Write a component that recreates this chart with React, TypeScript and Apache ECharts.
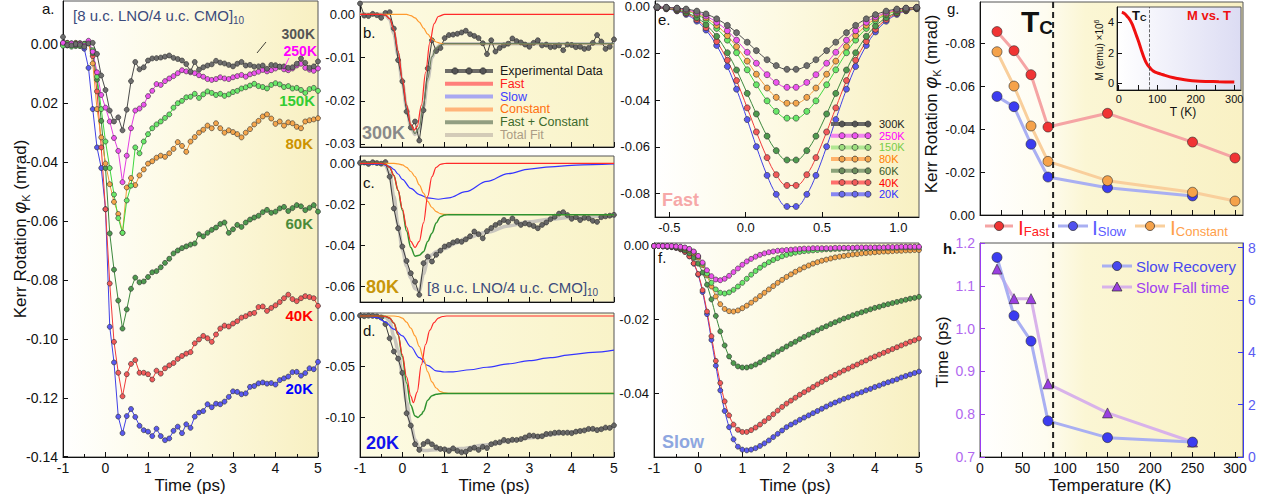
import React, { useEffect, useRef } from 'react';
import * as echarts from 'echarts';

const FONT = "'Liberation Sans', Arial, Helvetica, sans-serif";

// ---------------- time grid (ps) ----------------
const tA = [-1.0,-0.9,-0.8,-0.7,-0.6,-0.5,-0.4,-0.3,-0.2,-0.1,0.0,0.1,0.2,0.3,0.4,0.5,0.6,0.7,0.8,0.9,1.0,1.1,1.2,1.3,1.4,1.5,1.6,1.7,1.8,1.9,2.0,2.1,2.2,2.3,2.4,2.5,2.6,2.7,2.8,2.9,3.0,3.1,3.2,3.3,3.4,3.5,3.6,3.7,3.8,3.9,4.0,4.1,4.2,4.3,4.4,4.5,4.6,4.7,4.8,4.9,5.0];

// ---------------- panel a: experimental Kerr traces ----------------
const k300 = [0.0025,-0.0003,-0.0004,0.0001,-0.0002,-0.0008,0.0003,0.0005,-0.0033,-0.0106,
-0.0155,-0.0225,-0.0262,-0.0248,-0.0292,-0.0222,-0.0125,-0.0060,-0.0085,-0.0078,
-0.0055,-0.0048,-0.0047,-0.0045,-0.0042,-0.0038,-0.0046,-0.0050,-0.0055,-0.0067,
-0.0092,-0.0060,-0.0086,-0.0078,-0.0072,-0.0068,-0.0056,-0.0062,-0.0065,-0.0070,
-0.0075,-0.0066,-0.0060,-0.0072,-0.0070,-0.0076,-0.0075,-0.0072,-0.0083,-0.0070,
-0.0071,-0.0076,-0.0075,-0.0080,-0.0078,-0.0066,-0.0048,-0.0063,-0.0080,-0.0075,
-0.0058];
const k250 = [0.0005,-0.0002,0.0003,-0.0001,0.0002,-0.0004,0.0012,-0.0025,-0.0095,-0.0172,
-0.0215,-0.0262,-0.0318,-0.0362,-0.0468,-0.0378,-0.0285,-0.0225,-0.0218,-0.0205,
-0.0176,-0.0158,-0.0135,-0.0138,-0.0125,-0.0116,-0.0108,-0.0098,-0.0088,-0.0092,
-0.0095,-0.0098,-0.0105,-0.0110,-0.0118,-0.0121,-0.0118,-0.0112,-0.0116,-0.0118,
-0.0112,-0.0108,-0.0104,-0.0110,-0.0102,-0.0098,-0.0093,-0.0087,-0.0092,-0.0088,
-0.0082,-0.0076,-0.0085,-0.0088,-0.0082,-0.0072,-0.0066,-0.0080,-0.0086,-0.0090,
-0.0082];
const k150 = [-0.0005,0.0003,-0.0008,0.0002,-0.0006,0.0001,0.0004,-0.0020,-0.0110,-0.0220,
-0.0330,-0.0420,-0.0510,-0.0590,-0.0640,-0.0530,-0.0480,-0.0350,-0.0370,-0.0330,
-0.0305,-0.0285,-0.0272,-0.0262,-0.0250,-0.0238,-0.0215,-0.0200,-0.0192,-0.0180,
-0.0178,-0.0168,-0.0182,-0.0170,-0.0160,-0.0165,-0.0172,-0.0168,-0.0175,-0.0170,
-0.0162,-0.0158,-0.0150,-0.0146,-0.0140,-0.0134,-0.0142,-0.0145,-0.0150,-0.0138,
-0.0132,-0.0136,-0.0145,-0.0142,-0.0150,-0.0148,-0.0155,-0.0165,-0.0152,-0.0148,
-0.0158];
const k80 = [0.0002,0.0004,-0.0003,0.0005,0.0001,-0.0002,0.0006,-0.0065,-0.0220,-0.0316,
-0.0405,-0.0475,-0.0535,-0.0576,-0.0640,-0.0486,-0.0454,-0.0478,-0.0445,-0.0425,
-0.0405,-0.0397,-0.0385,-0.0378,-0.0382,-0.0370,-0.0355,-0.0332,-0.0345,-0.0365,
-0.0330,-0.0315,-0.0300,-0.0290,-0.0276,-0.0285,-0.0268,-0.0285,-0.0300,-0.0292,
-0.0298,-0.0305,-0.0316,-0.0300,-0.0288,-0.0272,-0.0260,-0.0245,-0.0238,-0.0252,
-0.0270,-0.0262,-0.0276,-0.0265,-0.0268,-0.0280,-0.0285,-0.0262,-0.0258,-0.0255,
-0.0251];
const k60 = [0.0003,-0.0004,0.0002,-0.0006,0.0004,0.0000,0.0008,-0.0030,-0.0120,-0.0260,
-0.0420,-0.0642,-0.0765,-0.0870,-0.0965,-0.0900,-0.0830,-0.0792,-0.0808,-0.0805,
-0.0790,-0.0774,-0.0770,-0.0757,-0.0742,-0.0728,-0.0710,-0.0700,-0.0692,-0.0686,
-0.0680,-0.0676,-0.0645,-0.0652,-0.0640,-0.0630,-0.0622,-0.0610,-0.0605,-0.0640,
-0.0628,-0.0613,-0.0620,-0.0605,-0.0595,-0.0588,-0.0582,-0.0570,-0.0562,-0.0572,
-0.0568,-0.0557,-0.0552,-0.0566,-0.0556,-0.0546,-0.0550,-0.0563,-0.0555,-0.0546,
-0.0568];
const k40 = [-0.0002,0.0005,-0.0001,0.0003,-0.0005,0.0002,0.0004,-0.0040,-0.0160,-0.0350,
-0.0560,-0.0812,-0.1010,-0.1115,-0.1195,-0.1120,-0.1085,-0.1072,-0.1115,-0.1115,
-0.1120,-0.1138,-0.1108,-0.1118,-0.1100,-0.1090,-0.1082,-0.1068,-0.1058,-0.1050,
-0.1045,-0.1015,-0.1002,-0.0990,-0.0998,-0.1010,-0.0985,-0.0965,-0.0955,-0.0958,
-0.0948,-0.0940,-0.0928,-0.0923,-0.0915,-0.0912,-0.0892,-0.0890,-0.0905,-0.0895,
-0.0886,-0.0875,-0.0862,-0.0850,-0.0865,-0.0872,-0.0862,-0.0855,-0.0858,-0.0862,
-0.0888];
const k20 = [0.0004,-0.0002,0.0003,0.0001,-0.0004,-0.0015,-0.0080,-0.0220,-0.0350,-0.0420,
-0.0560,-0.0959,-0.1080,-0.1264,-0.1320,-0.1262,-0.1238,-0.1265,-0.1295,-0.1310,
-0.1315,-0.1330,-0.1305,-0.1330,-0.1344,-0.1338,-0.1312,-0.1298,-0.1320,-0.1290,
-0.1302,-0.1264,-0.1250,-0.1245,-0.1222,-0.1232,-0.1220,-0.1222,-0.1213,-0.1197,
-0.1178,-0.1180,-0.1188,-0.1185,-0.1163,-0.1160,-0.1151,-0.1148,-0.1152,-0.1150,
-0.1155,-0.1140,-0.1134,-0.1128,-0.1113,-0.1112,-0.1125,-0.1116,-0.1100,-0.1103,
-0.1078];

// ---------------- panels b, c, d: fit components ----------------
const bFastT = [-1,-0.5,-0.4,-0.3,-0.2,-0.1,0,0.1,0.2,0.28,0.35,0.45,0.55,0.65,0.75,0.85,1.0,5.0];
const bFastV = [0,0,-0.0002,-0.001,-0.0035,-0.0085,-0.015,-0.021,-0.0255,-0.0268,-0.026,-0.021,-0.0135,-0.0065,-0.0022,-0.0005,0,0];
const bConstT = [-1,0.1,0.2,0.3,0.4,0.5,0.6,0.7,0.8,0.9,1.0,5.0];
const bConstV = [0,0,-0.0003,-0.0008,-0.0018,-0.0032,-0.0046,-0.0057,-0.0064,-0.0067,-0.0068,-0.0068];
const bFcT = [-1,-0.5,-0.4,-0.3,-0.2,-0.1,0,0.1,0.2,0.3,0.4,0.5,0.6,0.7,0.8,0.9,1.0,5.0];
const bFcV = [0,0,-0.0002,-0.001,-0.0035,-0.0085,-0.015,-0.021,-0.0258,-0.0276,-0.0262,-0.0208,-0.0148,-0.0098,-0.0078,-0.0071,-0.0068,-0.0068];
const bTotV = [0,0,-0.0002,-0.0012,-0.0045,-0.0095,-0.0158,-0.0215,-0.026,-0.0278,-0.0268,-0.0215,-0.0152,-0.0100,-0.0078,-0.0071,-0.0068,-0.0068];

const cFastT = [-1,-0.5,-0.4,-0.3,-0.2,-0.1,0,0.1,0.2,0.3,0.4,0.5,0.6,0.7,0.8,0.9,1.0,1.1,5];
const cFastV = [0,0,-0.0005,-0.002,-0.006,-0.013,-0.022,-0.031,-0.038,-0.041,-0.038,-0.029,-0.016,-0.0065,-0.002,-0.0005,-0.0001,0,0];
const cSlowT = [-1,-0.5,-0.3,-0.2,-0.1,0,0.2,0.4,0.6,0.85,1.1,1.5,2.0,2.5,3.0,3.5,4.0,4.5,5.0];
const cSlowV = [0,-0.0003,-0.0015,-0.003,-0.0052,-0.0078,-0.0122,-0.0152,-0.0168,-0.0175,-0.0168,-0.0138,-0.0088,-0.005,-0.0028,-0.0017,-0.001,-0.0006,-0.0003];
const cConstT = [-1,-0.2,-0.1,0,0.1,0.2,0.3,0.4,0.5,0.6,0.7,0.8,0.9,1.0,5];
const cConstV = [0,0,-0.0003,-0.0008,-0.002,-0.004,-0.0065,-0.0105,-0.0145,-0.0185,-0.0215,-0.0235,-0.0245,-0.0249,-0.025];
const cFcT = [-1,-0.5,-0.4,-0.3,-0.2,-0.1,0,0.1,0.2,0.3,0.4,0.5,0.6,0.7,0.8,0.9,1.0,1.1,5];
const cFcV = [0,0,-0.0005,-0.002,-0.006,-0.0133,-0.0228,-0.033,-0.041,-0.0452,-0.0448,-0.043,-0.038,-0.034,-0.029,-0.026,-0.0252,-0.025,-0.025];
const cTotT = [-1,-0.5,-0.4,-0.3,-0.2,-0.1,0,0.1,0.2,0.3,0.4,0.5,0.6,0.7,0.8,1.0,1.25,1.5,2.0,2.5,3.0,3.5,4.0,4.5,5.0];
const cTotV = [0,0,-0.001,-0.005,-0.016,-0.03,-0.042,-0.05,-0.056,-0.061,-0.062,-0.054,-0.047,-0.0445,-0.043,-0.0415,-0.039,-0.0365,-0.0335,-0.0305,-0.0285,-0.0272,-0.0263,-0.0258,-0.0255];

const dFastT = [-1,-0.5,-0.4,-0.3,-0.2,-0.1,0,0.1,0.2,0.26,0.35,0.45,0.55,0.65,0.75,0.85,0.95,1.05,5];
const dFastV = [0,0,-0.0005,-0.002,-0.007,-0.018,-0.038,-0.06,-0.079,-0.0855,-0.075,-0.048,-0.028,-0.014,-0.0065,-0.002,-0.0005,0,0];
const dSlowT = [-1,-0.8,-0.6,-0.4,-0.2,0,0.2,0.4,0.6,0.8,1.0,1.2,1.6,2.0,2.5,3.0,3.5,4.0,4.5,5.0];
const dSlowV = [0,-0.0003,-0.0015,-0.006,-0.013,-0.0195,-0.0303,-0.041,-0.0487,-0.054,-0.0552,-0.055,-0.053,-0.0505,-0.0472,-0.044,-0.041,-0.038,-0.0358,-0.0336];
const dConstT = [-1,-0.2,-0.1,0,0.1,0.2,0.3,0.4,0.5,0.6,0.7,0.8,0.9,1.0,1.1,5];
const dConstV = [0,0,-0.0005,-0.002,-0.006,-0.012,-0.0195,-0.03,-0.042,-0.055,-0.065,-0.071,-0.0745,-0.0758,-0.0763,-0.0763];
const dFcT = [-1,-0.5,-0.4,-0.3,-0.2,-0.1,0,0.1,0.2,0.3,0.37,0.45,0.5,0.6,0.7,0.8,0.9,1.0,1.1,5];
const dFcV = [0,0,-0.0005,-0.002,-0.007,-0.0185,-0.04,-0.066,-0.088,-0.0985,-0.1,-0.097,-0.094,-0.083,-0.0785,-0.0772,-0.0766,-0.0764,-0.0763,-0.0763];
const dTotT = [-1,-0.5,-0.4,-0.3,-0.2,-0.1,0,0.1,0.2,0.3,0.4,0.5,0.6,0.8,1.0,1.4,2.0,2.5,3.0,3.5,4.0,4.5,5.0];
const dTotV = [0,0,-0.001,-0.005,-0.02,-0.034,-0.058,-0.085,-0.107,-0.122,-0.13,-0.1325,-0.1325,-0.1318,-0.1312,-0.1305,-0.127,-0.1235,-0.1202,-0.117,-0.1142,-0.1118,-0.1098];

// ---------------- panel e: fast component ----------------
const xE = [-0.58,-0.52,-0.45,-0.39,-0.32,-0.26,-0.19,-0.12,-0.06,0.01,0.07,0.14,0.20,0.27,0.33,0.40,0.46,0.53,0.59,0.66,0.72,0.79,0.85,0.92,0.99,1.05,1.12];
const e300 = [-0.0001,-0.0003,-0.0006,-0.0010,-0.0019,-0.0031,-0.0052,-0.0080,-0.0111,-0.0152,-0.0188,-0.0227,-0.0252,-0.0268,-0.0268,-0.0252,-0.0227,-0.0188,-0.0152,-0.0111,-0.0080,-0.0052,-0.0034,-0.0019,-0.0010,-0.0006,-0.0003];
const e250 = [-0.0002,-0.0003,-0.0007,-0.0013,-0.0025,-0.0040,-0.0067,-0.0103,-0.0143,-0.0195,-0.0242,-0.0291,-0.0324,-0.0345,-0.0345,-0.0324,-0.0291,-0.0242,-0.0195,-0.0143,-0.0103,-0.0067,-0.0044,-0.0025,-0.0013,-0.0007,-0.0003];
const e80 = [-0.0002,-0.0004,-0.0009,-0.0016,-0.0030,-0.0048,-0.0080,-0.0124,-0.0171,-0.0233,-0.0289,-0.0348,-0.0388,-0.0413,-0.0413,-0.0388,-0.0348,-0.0289,-0.0233,-0.0171,-0.0124,-0.0080,-0.0052,-0.0030,-0.0016,-0.0009,-0.0004];
const e150 = [-0.0002,-0.0005,-0.0010,-0.0018,-0.0034,-0.0056,-0.0093,-0.0143,-0.0197,-0.0270,-0.0334,-0.0403,-0.0448,-0.0477,-0.0477,-0.0448,-0.0403,-0.0334,-0.0270,-0.0197,-0.0143,-0.0093,-0.0060,-0.0034,-0.0018,-0.0010,-0.0005];
const e60 = [-0.0003,-0.0007,-0.0014,-0.0025,-0.0047,-0.0077,-0.0127,-0.0197,-0.0271,-0.0371,-0.0459,-0.0554,-0.0616,-0.0656,-0.0656,-0.0616,-0.0554,-0.0459,-0.0371,-0.0271,-0.0197,-0.0127,-0.0083,-0.0047,-0.0025,-0.0014,-0.0007];
const e40 = [-0.0004,-0.0008,-0.0016,-0.0029,-0.0055,-0.0090,-0.0149,-0.0229,-0.0316,-0.0433,-0.0536,-0.0646,-0.0719,-0.0765,-0.0765,-0.0719,-0.0646,-0.0536,-0.0433,-0.0316,-0.0229,-0.0149,-0.0097,-0.0055,-0.0029,-0.0016,-0.0008];
const e20 = [-0.0004,-0.0009,-0.0018,-0.0033,-0.0062,-0.0100,-0.0166,-0.0256,-0.0353,-0.0483,-0.0599,-0.0722,-0.0803,-0.0855,-0.0855,-0.0803,-0.0722,-0.0599,-0.0483,-0.0353,-0.0256,-0.0166,-0.0108,-0.0062,-0.0033,-0.0018,-0.0009];

// ---------------- panel f: slow component ----------------
const f20 = [0,0,-0.0001,-0.0002,-0.0003,-0.0005,-0.0009,-0.0016,-0.0028,-0.0048,
-0.0078,-0.0125,-0.0185,-0.0255,-0.0325,-0.0392,-0.0448,-0.0492,-0.0525,-0.0545,
-0.0553,-0.0555,-0.0553,-0.0549,-0.0543,-0.0536,-0.0528,-0.0519,-0.0510,-0.0501,
-0.0492,-0.0485,-0.0479,-0.0472,-0.0466,-0.0460,-0.0454,-0.0448,-0.0442,-0.0436,
-0.0430,-0.0425,-0.0420,-0.0415,-0.0411,-0.0406,-0.0401,-0.0397,-0.0392,-0.0388,
-0.0383,-0.0379,-0.0374,-0.0370,-0.0366,-0.0362,-0.0357,-0.0353,-0.0349,-0.0345,
-0.0341];
const f40 = [0,0,-0.0001,-0.0002,-0.0003,-0.0005,-0.0009,-0.0016,-0.0028,-0.0047,
-0.0076,-0.0120,-0.0178,-0.0245,-0.0312,-0.0372,-0.0422,-0.0460,-0.0485,-0.0499,
-0.0505,-0.0505,-0.0500,-0.0493,-0.0485,-0.0476,-0.0467,-0.0457,-0.0447,-0.0437,
-0.0428,-0.0420,-0.0412,-0.0404,-0.0397,-0.0390,-0.0383,-0.0376,-0.0369,-0.0362,
-0.0356,-0.0350,-0.0344,-0.0338,-0.0333,-0.0327,-0.0322,-0.0316,-0.0311,-0.0305,
-0.0300,-0.0295,-0.0290,-0.0285,-0.0280,-0.0275,-0.0270,-0.0265,-0.0260,-0.0256,
-0.0251];
const f60 = [0,0,-0.0001,-0.0001,-0.0002,-0.0004,-0.0007,-0.0012,-0.0020,-0.0032,
-0.0048,-0.0072,-0.0105,-0.0145,-0.0190,-0.0232,-0.0270,-0.0300,-0.0318,-0.0327,
-0.0330,-0.0330,-0.0327,-0.0322,-0.0316,-0.0309,-0.0302,-0.0295,-0.0287,-0.0280,
-0.0273,-0.0266,-0.0260,-0.0253,-0.0247,-0.0241,-0.0235,-0.0229,-0.0223,-0.0218,
-0.0212,-0.0207,-0.0202,-0.0197,-0.0193,-0.0188,-0.0184,-0.0180,-0.0176,-0.0172,
-0.0168,-0.0165,-0.0161,-0.0158,-0.0155,-0.0152,-0.0149,-0.0146,-0.0143,-0.0141,
-0.0138];
const f80 = [0,0,0,-0.0001,-0.0001,-0.0002,-0.0004,-0.0007,-0.0012,-0.0020,
-0.0032,-0.0052,-0.0080,-0.0110,-0.0137,-0.0158,-0.0171,-0.0177,-0.0178,-0.0175,
-0.0169,-0.0162,-0.0154,-0.0145,-0.0136,-0.0127,-0.0118,-0.0109,-0.0100,-0.0092,
-0.0084,-0.0077,-0.0070,-0.0064,-0.0058,-0.0053,-0.0048,-0.0044,-0.0040,-0.0037,
-0.0034,-0.0031,-0.0029,-0.0027,-0.0025,-0.0023,-0.0022,-0.0020,-0.0019,-0.0018,
-0.0017,-0.0016,-0.0015,-0.0015,-0.0014,-0.0013,-0.0013,-0.0012,-0.0012,-0.0011,
-0.0011];
const f150 = [0,0,0,-0.0001,-0.0001,-0.0002,-0.0003,-0.0005,-0.0009,-0.0016,
-0.0028,-0.0048,-0.0075,-0.0100,-0.0118,-0.0127,-0.0129,-0.0126,-0.0119,-0.0110,
-0.0100,-0.0089,-0.0078,-0.0068,-0.0059,-0.0051,-0.0044,-0.0038,-0.0033,-0.0028,
-0.0024,-0.0021,-0.0018,-0.0016,-0.0014,-0.0013,-0.0012,-0.0011,-0.0010,-0.0009,
-0.0009,-0.0008,-0.0008,-0.0007,-0.0007,-0.0007,-0.0006,-0.0006,-0.0006,-0.0006,
-0.0005,-0.0005,-0.0005,-0.0005,-0.0005,-0.0005,-0.0004,-0.0004,-0.0004,-0.0004,
-0.0004];
const f250 = [0,0,0,0,0,-0.0001,-0.0002,-0.0004,-0.0008,-0.0015,
-0.0027,-0.0045,-0.0066,-0.0082,-0.0091,-0.0093,-0.0089,-0.0081,-0.0071,-0.0061,
-0.0051,-0.0042,-0.0035,-0.0029,-0.0024,-0.0020,-0.0017,-0.0015,-0.0013,-0.0012,
-0.0011,-0.0010,-0.0009,-0.0008,-0.0007,-0.0007,-0.0006,-0.0006,-0.0006,-0.0006,
-0.0006,-0.0005,-0.0005,-0.0005,-0.0005,-0.0005,-0.0004,-0.0004,-0.0004,-0.0004,
-0.0004,-0.0004,-0.0004,-0.0003,-0.0003,-0.0003,-0.0002,-0.0002,-0.0002,-0.0002,
-0.0002];

// ---------------- panel g: amplitudes vs temperature ----------------
const gTemps = [20,40,60,80,150,250,300];
const gFast = [-0.0855,-0.0766,-0.0654,-0.041,-0.0474,-0.034,-0.0266];
const gSlowTemps = [20,40,60,80,150,250];
const gSlow = [-0.0553,-0.0505,-0.033,-0.0177,-0.0127,-0.0089];
const gConst = [-0.0761,-0.0601,-0.0415,-0.025,-0.016,-0.0106,-0.0065];

// ---------------- panel h: times vs temperature ----------------
const hTemps = [20,40,60,80,150,250];
const hRecovery = [7.63,5.40,4.43,1.38,0.74,0.57];
const hFall = [1.139,1.07,1.07,0.871,0.803,0.735];

// ---------------- inset: M vs T ----------------
const mT = [8,12,16,20,25,30,35,40,45,50,55,60,65,70,75,80,85,90,100,110,120,140,160,180,200,230,260,300];
const mM = [4.65,4.62,4.55,4.45,4.3,4.12,3.88,3.55,3.2,2.85,2.48,2.08,1.72,1.42,1.2,1.05,0.9,0.8,0.68,0.6,0.52,0.38,0.28,0.2,0.15,0.12,0.1,0.08];

const TC = 86;
const TC_INSET = 80;

// ---------------- tick labels ----------------
const aTickVals = [-0.14,-0.12,-0.1,-0.08,-0.06,-0.04,-0.02,0];
const aTickLabels = ['-0.14','-0.12','-0.10','-0.08','-0.06','-0.04','0.02','0.00'];
const bTicks = [-0.03,-0.02,-0.01,0];
const cTicks = [-0.06,-0.04,-0.02,0];
const dTicks = [-0.1,-0.05,0];
const eYTicks = [-0.08,-0.06,-0.04,-0.02,0];
const eXTicks = [-0.5,0,0.5,1.0];
const fTicks = [-0.04,-0.02,0];
const gTicks = [-0.08,-0.06,-0.04,-0.02,0];
const hLeftTicks = [0.7,0.8,0.9,1.0,1.1,1.2];
const hRightTicks = [0,2,4,6,8];
const tempLabelTicks = [0,50,100,150,200,250,300];
const tempTicks = [0,25,50,75,100,125,150,175,200,225,250,275,300];
const insetXTicks = [0,100,200,300];
const insetXMinor = [0,50,100,150,200,250,300];
const insetYTicks = [0,2,4];

const P = (xs: number[], ys: number[]) => ys.map((y, i) => [xs[i], y]);

function buildOption(): any {
  const hg = (stops: [number, string][]) =>
    new echarts.graphic.LinearGradient(0, 0, 1, 0, stops.map(([offset, color]) => ({ offset, color })));
  const yellowBg = () => hg([[0, '#ffffff'], [0.45, '#fdfae4'], [1, '#f8f0c2']]);
  const paleBg = () => hg([[0, '#fdfbe4'], [1, '#f9f3c8']]);
  const tGradBg = () => hg([[0, '#ffffff'], [0.25, '#fefcf0'], [0.4, '#fbf6d4'], [1, '#f9f1c4']]);
  const grid = (left: number, top: number, width: number, height: number, bg: any) => ({
    left, top, width, height, show: true, backgroundColor: bg, borderColor: '#555', borderWidth: 1,
  });

  const grids = [
    grid(63, 1, 255, 456, yellowBg()),      // 0 a
    grid(360, 2, 254, 145, paleBg()),       // 1 b
    grid(360, 156, 254, 146, paleBg()),     // 2 c
    grid(360, 313, 254, 144, paleBg()),     // 3 d
    grid(655, 1, 264, 216, yellowBg()),     // 4 e
    grid(654, 243, 265, 214, yellowBg()),   // 5 f
    grid(980, 2, 263, 213, tGradBg()),      // 6 g
    grid(980, 243, 263, 214, tGradBg()),    // 7 h
    grid(1117, 7, 124, 83, hg([[0, '#ffffff'], [1, '#dcdcf3']])), // 8 inset
  ];

  const axLine = (c = '#111') => ({ onZero: false, lineStyle: { color: c, width: 1 } });
  const lab = (size: number, color = '#111', extra: any = {}) => ({ fontSize: size, color, fontFamily: FONT, margin: 5, ...extra });

  const timeX = (gi: number, showLabels: boolean) => ({
    type: 'value', gridIndex: gi, min: -1, max: 5, interval: 1,
    axisLine: axLine(),
    axisTick: { inside: true, length: 5, lineStyle: { color: '#111' } },
    minorTick: { show: true, splitNumber: 2, length: 3, lineStyle: { color: '#111' } },
    axisLabel: lab(14, '#111', { show: showLabels, margin: 4 }),
    splitLine: { show: false }, minorSplitLine: { show: false },
  });
  const customX = (gi: number, min: number, max: number, ticks: number[], labels: number[] | null, fmt: any, size = 14) => ({
    type: 'value', gridIndex: gi, min, max,
    axisLine: axLine(),
    axisTick: { inside: true, length: 5, customValues: ticks, lineStyle: { color: '#111' } },
    axisLabel: labels ? lab(size, '#111', { customValues: labels, formatter: fmt, margin: 4 }) : { show: false },
    splitLine: { show: false },
  });
  const customY = (gi: number, min: number, max: number, ticks: number[], fmt: any, size = 13, color = '#111', lineColor = '#111', extra: any = {}) => ({
    type: 'value', gridIndex: gi, min, max,
    axisLine: axLine(lineColor),
    axisTick: { inside: true, length: 5, customValues: ticks, lineStyle: { color: lineColor } },
    axisLabel: lab(size, color, { customValues: ticks, formatter: fmt }),
    splitLine: { show: false },
    ...extra,
  });
  const f2 = (v: number) => v.toFixed(2);

  const xAxis = [
    timeX(0, true),
    timeX(1, false),
    timeX(2, false),
    timeX(3, true),
    customX(4, -0.594, 1.135, eXTicks, eXTicks, (v: number) => v.toFixed(1), 13),
    timeX(5, true),
    customX(6, 0, 309.4, tempTicks, null, null),
    customX(7, 0, 309.4, tempTicks, tempLabelTicks, (v: number) => String(Math.round(v)), 14),
    customX(8, -4.4, 317.4, insetXMinor, insetXTicks, (v: number) => String(Math.round(v)), 11),
  ];
  xAxis[8].axisLabel.margin = 3;

  const yAxis = [
    customY(0, -0.1401, 0.0147, aTickVals, (v: number) => {
      const i = aTickVals.findIndex((t) => Math.abs(t - v) < 1e-9);
      return i >= 0 ? aTickLabels[i] : '';
    }, 14),
    customY(1, -0.0307, 0.00285, bTicks, f2),
    customY(2, -0.0675, 0.00355, cTicks, f2),
    customY(3, -0.139, 0.00296, dTicks, f2),
    customY(4, -0.09, 0.00244, eYTicks, f2),
    customY(5, -0.0573, 0.00081, fTicks, f2),
    customY(6, -0.0993, 0, gTicks, f2, 13, '#111', '#111', { inverse: true }),
    customY(7, 0.7, 1.2, hLeftTicks, (v: number) => v.toFixed(1), 14, '#b067f0', '#9a3cf0'),
    customY(7, 0, 8.18, hRightTicks, (v: number) => String(Math.round(v)), 14, '#5a5af2', '#3a3af0', { position: 'right' }),
    customY(8, -0.44, 5, insetYTicks, (v: number) => String(Math.round(v)), 11),
  ];
  yAxis[9].axisLabel.margin = 3;

  const dots = (xi: number, yi: number, xs: number[], ys: number[], fill: string, line: string, size = 5, lw = 1, extra: any = {}) => ({
    type: 'line', xAxisIndex: xi, yAxisIndex: yi, data: P(xs, ys),
    symbol: 'circle', symbolSize: size, showSymbol: true,
    itemStyle: { color: fill, borderColor: '#2a2a2a', borderWidth: 0.6 },
    lineStyle: { color: line, width: lw },
    emphasis: { disabled: true }, z: 3,
    ...extra,
  });
  const curve = (xi: number, yi: number, xs: number[], ys: number[], color: string, width: number, z = 4, opacity = 1) => ({
    type: 'line', xAxisIndex: xi, yAxisIndex: yi, data: P(xs, ys), symbol: 'none',
    smooth: 0.35, smoothMonotone: 'x',
    lineStyle: { color, width, opacity }, emphasis: { disabled: true }, z,
  });

  const C = {
    k300: ['#6e6e6e', '#4a4a4a'], k250: ['#ee55ee', '#e23de2'], k150: ['#6ae86a', '#3fd63f'],
    k80: ['#f5a64c', '#f09a38'], k60: ['#4f9a4f', '#3d883d'], k40: ['#f25a5a', '#f03a3a'], k20: ['#5a5aee', '#4040e6'],
  };
  const dataFill = '#666666', dataLine = '#3a3a3a';

  const series: any[] = [
    // panel a
    dots(0, 0, tA, k20, C.k20[0], C.k20[1]),
    dots(0, 0, tA, k40, C.k40[0], C.k40[1]),
    dots(0, 0, tA, k60, C.k60[0], C.k60[1]),
    dots(0, 0, tA, k80, C.k80[0], C.k80[1]),
    dots(0, 0, tA, k150, C.k150[0], C.k150[1]),
    dots(0, 0, tA, k250, C.k250[0], C.k250[1]),
    dots(0, 0, tA, k300, C.k300[0], C.k300[1]),

    // panel b (300K)
    curve(1, 1, bFcT, bTotV, '#c9c6be', 3.5, 2),
    dots(1, 1, tA, k300, dataFill, dataLine, 5),
    curve(1, 1, bConstT, bConstV, '#ff9a2e', 1.2),
    curve(1, 1, bFcT, bFcV, '#6d7f5c', 1.2),
    curve(1, 1, bFastT, bFastV, '#ff2a2a', 1.2, 5),

    // panel c (80K)
    curve(2, 2, cTotT, cTotV, '#c9c6be', 3.5, 2),
    dots(2, 2, tA, k80, dataFill, dataLine, 5),
    curve(2, 2, cSlowT, cSlowV, '#3535ff', 1.2),
    curve(2, 2, cConstT, cConstV, '#ff9a2e', 1.2),
    curve(2, 2, cFcT, cFcV, '#2f922f', 1.5),
    curve(2, 2, cFastT, cFastV, '#ff2a2a', 1.2, 5),

    // panel d (20K)
    curve(3, 3, dTotT, dTotV, '#c9c6be', 3.5, 2),
    dots(3, 3, tA, k20, dataFill, dataLine, 5),
    curve(3, 3, dSlowT, dSlowV, '#3535ff', 1.2),
    curve(3, 3, dConstT, dConstV, '#ff9a2e', 1.2),
    curve(3, 3, dFcT, dFcV, '#2f922f', 1.5),
    curve(3, 3, dFastT, dFastV, '#ff2a2a', 1.2, 5),

    // panel e
    dots(4, 4, xE, e20, C.k20[0], C.k20[1], 6, 1, { smooth: 0.4 }),
    dots(4, 4, xE, e40, C.k40[0], C.k40[1], 6, 1, { smooth: 0.4 }),
    dots(4, 4, xE, e60, C.k60[0], C.k60[1], 6, 1, { smooth: 0.4 }),
    dots(4, 4, xE, e150, C.k150[0], C.k150[1], 6, 1, { smooth: 0.4 }),
    dots(4, 4, xE, e80, C.k80[0], C.k80[1], 6, 1, { smooth: 0.4 }),
    dots(4, 4, xE, e250, C.k250[0], C.k250[1], 6, 1, { smooth: 0.4 }),
    dots(4, 4, xE, e300, C.k300[0], C.k300[1], 6, 1, { smooth: 0.4 }),

    // panel f
    dots(5, 5, tA, f20, C.k20[0], C.k20[1], 5, 1, { smooth: 0.3 }),
    dots(5, 5, tA, f40, C.k40[0], C.k40[1], 5, 1, { smooth: 0.3 }),
    dots(5, 5, tA, f60, C.k60[0], C.k60[1], 5, 1, { smooth: 0.3 }),
    dots(5, 5, tA, f80, C.k80[0], C.k80[1], 5, 1, { smooth: 0.3 }),
    dots(5, 5, tA, f150, C.k150[0], C.k150[1], 5, 1, { smooth: 0.3 }),
    dots(5, 5, tA, f250, C.k250[0], C.k250[1], 5, 1, { smooth: 0.3 }),

    // panel g
    dots(6, 6, gSlowTemps, gSlow, '#3c3cf0', '#a9aff2', 10, 3),
    dots(6, 6, gTemps, gConst, '#f5a24a', '#f9cf9c', 10, 3),
    dots(6, 6, gTemps, gFast, '#f03434', '#f5a4a4', 10, 3),

    // panel h
    dots(7, 7, hTemps, hFall, '#9a3fe0', '#d8b2ea', 10, 3, { symbol: 'triangle' }),
    dots(7, 8, hTemps, hRecovery, '#3c3cf0', '#a9aff2', 10, 3),

    // inset
    {
      type: 'line', xAxisIndex: 8, yAxisIndex: 9, data: P(mT, mM), symbol: 'none', smooth: 0.3,
      lineStyle: { color: '#f01010', width: 3 }, emphasis: { disabled: true }, z: 4,
      markLine: {
        silent: true, symbol: 'none', label: { show: false },
        lineStyle: { color: '#444', type: 'dashed', width: 0.8 },
        data: [{ xAxis: TC_INSET }],
      },
    },
  ];

  // ---------------- graphic annotations ----------------
  const T = (x: number, y: number, text: string, size: number, fill: string, opts: any = {}) => ({
    type: 'text', x, y, z: 100,
    style: { text, fill, fontSize: size, fontFamily: FONT, align: 'left', verticalAlign: 'middle', ...opts },
  });
  const L = (x1: number, y1: number, x2: number, y2: number, stroke: string, lineWidth: number, opacity = 1, dash?: number[]) => ({
    type: 'line', z: 100, shape: { x1, y1, x2, y2 },
    style: { stroke, lineWidth, opacity, lineDash: dash },
  });
  const Cc = (cx: number, cy: number, r: number, fill: string) => ({
    type: 'circle', z: 101, shape: { cx, cy, r }, style: { fill, stroke: '#2a2a2a', lineWidth: 0.7 },
  });
  const cmo = (x: number, y: number) => ({
    type: 'text', x, y, z: 100,
    style: {
      text: '{m|[8 u.c. LNO/4 u.c. CMO]}{s|10}', align: 'left', verticalAlign: 'middle',
      rich: {
        m: { fontSize: 15, fill: '#3b4b7c', fontFamily: FONT, lineHeight: 20, verticalAlign: 'middle' },
        s: { fontSize: 10, fill: '#3b4b7c', fontFamily: FONT, lineHeight: 10, verticalAlign: 'bottom' },
      },
    },
  });
  const kerrTitle = (x: number, y: number) => ({
    type: 'text', x, y, z: 100, rotation: Math.PI / 2,
    style: {
      text: '{a|Kerr Rotation }{p|φ}{s|K}{a| (mrad)}', align: 'center', verticalAlign: 'middle',
      rich: {
        a: { fontSize: 17, fill: '#111', fontFamily: FONT, lineHeight: 22, verticalAlign: 'middle' },
        p: { fontSize: 18, fill: '#111', fontFamily: FONT, fontStyle: 'italic', lineHeight: 22, verticalAlign: 'middle' },
        s: { fontSize: 11, fill: '#111', fontFamily: FONT, lineHeight: 12, verticalAlign: 'bottom' },
      },
    },
  });
  const subLabel = (x: number, y: number, main: string, sub: string, color: string) => ({
    type: 'text', x, y, z: 100,
    style: {
      text: `{i|${main}}{s|${sub}}`, align: 'left', verticalAlign: 'middle',
      rich: {
        i: { fontSize: 21, fill: color, fontFamily: FONT, lineHeight: 22, verticalAlign: 'middle' },
        s: { fontSize: 13, fill: color, fontFamily: FONT, lineHeight: 13, verticalAlign: 'bottom' },
      },
    },
  });

  const bLegend: any[] = [];
  const bRows = [
    { label: 'Experimental Data', line: '#555555', text: '#1a1a1a', dots: true },
    { label: 'Fast', line: '#ff6a6a', text: '#ff2020' },
    { label: 'Slow', line: '#9a9af5', text: '#4040ff' },
    { label: 'Constant', line: '#ffa868', text: '#ff7010' },
    { label: 'Fast + Constant', line: '#7f8e72', text: '#3c6a2c' },
    { label: 'Total Fit', line: '#cbc3b2', text: '#ab9c84' },
  ];
  bRows.forEach((r, i) => {
    const y = 71 + i * 12.8;
    bLegend.push(L(445, y, 493, y, r.line, 4, 0.85));
    if (r.dots) { bLegend.push(Cc(455, y, 3.2, '#555'), Cc(469, y, 3.2, '#555'), Cc(483, y, 3.2, '#555')); }
    bLegend.push(T(500, y, r.label, 12.5, r.text, { lineHeight: 12 }));
  });

  const eLegend: any[] = [];
  const eRows = [
    { label: '300K', line: '#5a5a5a', dot: '#555', text: '#222' },
    { label: '250K', line: '#f27af2', dot: '#ee55ee', text: '#ff00ff' },
    { label: '150K', line: '#a8e68c', dot: '#9ee07e', text: '#78cc48' },
    { label: '80K', line: '#ffac5e', dot: '#f5a64c', text: '#ff8000' },
    { label: '60K', line: '#7f9a70', dot: '#6c8e5c', text: '#3a5a2a' },
    { label: '40K', line: '#ff6060', dot: '#f25a5a', text: '#ff0000' },
    { label: '20K', line: '#7a7af5', dot: '#6a6aee', text: '#3030ff' },
  ];
  eRows.forEach((r, i) => {
    const y = 124 + i * 11.7;
    eLegend.push(L(831, y, 869, y, r.line, 4, 0.9));
    eLegend.push(Cc(842, y, 3, r.dot), Cc(855, y, 3, r.dot), Cc(868, y, 3, r.dot));
    eLegend.push(T(879, y, r.label, 11, r.text, { lineHeight: 11 }));
  });

  const bold = (extra: any = {}) => ({ fontWeight: 'bold', lineHeight: 12, ...extra });

  const graphic: any[] = [
    // panel a
    T(42, 8, 'a.', 15, '#111'),
    cmo(73, 15),
    T(315, 34, '300K', 14, '#555555', bold({ align: 'right' })),
    T(317, 51, '250K', 14, '#ff00ff', bold({ align: 'right' })),
    T(315, 100, '150K', 15, '#33cc33', bold({ align: 'right' })),
    T(313, 143, '80K', 15, '#cc9200', bold({ align: 'right' })),
    T(313, 223, '60K', 15, '#4a8a3a', bold({ align: 'right' })),
    T(313, 315, '40K', 15, '#ff0000', bold({ align: 'right' })),
    T(313, 388, '20K', 15, '#0000ff', bold({ align: 'right' })),
    L(266, 42, 257, 53, '#111', 0.8),
    L(289, 58, 284, 68, '#ff00ff', 0.8),
    kerrTitle(20, 229),
    T(190, 485, 'Time (ps)', 17, '#111', { align: 'center' }),

    // panels b, c, d
    T(363, 32, 'b.', 15, '#111'),
    T(362, 133, '300K', 18, '#8a8a8a', { fontWeight: 'bold' }),
    ...bLegend,
    T(363, 182, 'c.', 15, '#111'),
    T(366, 287, '80K', 18, '#c8960a', { fontWeight: 'bold' }),
    cmo(427, 287),
    T(363, 330, 'd.', 15, '#111'),
    T(366, 443, '20K', 18, '#1212ee', { fontWeight: 'bold' }),
    T(494, 485, 'Time (ps)', 17, '#111', { align: 'center' }),

    // panels e, f
    T(658, 19, 'e.', 15, '#111'),
    T(662, 200, 'Fast', 18, '#f6a8a8', { fontWeight: 'bold' }),
    ...eLegend,
    T(658, 257, 'f.', 15, '#111'),
    T(662, 442, 'Slow', 18, '#8ea7e0', { fontWeight: 'bold' }),
    T(795, 485, 'Time (ps)', 17, '#111', { align: 'center' }),

    // panel g
    T(947, 8, 'g.', 15, '#111'),
    kerrTitle(931, 104),
    {
      type: 'text', x: 1021, y: 21, z: 100,
      style: {
        text: '{t|T}{c|C}', align: 'left', verticalAlign: 'middle',
        rich: {
          t: { fontSize: 30, fontWeight: 'bold', fill: '#111', fontFamily: FONT, lineHeight: 32, verticalAlign: 'middle' },
          c: { fontSize: 19, fontWeight: 'bold', fill: '#111', fontFamily: FONT, lineHeight: 19, verticalAlign: 'bottom' },
        },
      },
    },
    // inset texts
    {
      type: 'text', x: 1132, y: 15, z: 100,
      style: {
        text: '{t|T}{c|C}', align: 'left', verticalAlign: 'middle',
        rich: {
          t: { fontSize: 13, fontWeight: 'bold', fill: '#111', fontFamily: FONT, lineHeight: 14, verticalAlign: 'middle' },
          c: { fontSize: 9, fontWeight: 'bold', fill: '#111', fontFamily: FONT, lineHeight: 9, verticalAlign: 'bottom' },
        },
      },
    },
    T(1187, 15, 'M vs. T', 13, '#ee1111', { fontWeight: 'bold' }),
    {
      type: 'text', x: 1099, y: 50, z: 100, rotation: Math.PI / 2,
      style: {
        text: '{a|M (emu) ×10}{s|6}', align: 'center', verticalAlign: 'middle',
        rich: {
          a: { fontSize: 10, fill: '#111', fontFamily: FONT, lineHeight: 12, verticalAlign: 'middle' },
          s: { fontSize: 7, fill: '#111', fontFamily: FONT, lineHeight: 7, verticalAlign: 'top' },
        },
      },
    },
    T(1183, 112, 'T (K)', 12, '#111', { align: 'center' }),
    // g legend
    L(985, 226, 1013, 226, '#f5a4a4', 3),
    Cc(999, 226, 4.5, '#f03434'),
    subLabel(1018, 227, 'I', 'Fast', '#ff2020'),
    L(1058, 226, 1088, 226, '#a9aff2', 3),
    Cc(1073, 226, 4.5, '#5050ee'),
    subLabel(1092, 227, 'I', 'Slow', '#5b5bff'),
    L(1135, 226, 1165, 226, '#f9cf9c', 3),
    Cc(1150, 226, 4.5, '#f5a24a'),
    subLabel(1170, 227, 'I', 'Constant', '#ffa04a'),

    // panel h
    T(943, 248, 'h.', 15, '#111', { fontWeight: 'bold' }),
    {
      type: 'text', x: 942, y: 352, z: 100, rotation: Math.PI / 2,
      style: { text: 'Time (ps)', fill: '#111', fontSize: 17, fontFamily: FONT, align: 'center', verticalAlign: 'middle' },
    },
    T(1110, 485, 'Temperature (K)', 17, '#111', { align: 'center' }),
    L(1102, 266, 1132, 266, '#a9aff2', 3),
    Cc(1117, 266, 4.5, '#4848ee'),
    T(1136, 266, 'Slow Recovery', 15, '#4848f0'),
    L(1102, 287, 1132, 287, '#d8b2ea', 3),
    {
      type: 'polygon', z: 101, shape: { points: [[1117, 282], [1122, 291], [1112, 291]] },
      style: { fill: '#9a3fe0', stroke: '#2a2a2a', lineWidth: 0.7 },
    },
    T(1136, 287, 'Slow Fall time', 15, '#a040f0'),
  ];

  return {
    animation: false,
    backgroundColor: '#ffffff',
    textStyle: { fontFamily: FONT },
    grid: grids,
    xAxis,
    yAxis,
    series,
    graphic: { elements: graphic },
  };
}

export default function App() {
  const ref = useRef<HTMLDivElement>(null);
  useEffect(() => {
    if (!ref.current) return;
    const chart = echarts.init(ref.current, null, { renderer: 'svg' });
    chart.setOption(buildOption());
    const xTc = chart.convertToPixel({ xAxisIndex: 6 } as any, TC) as unknown as number;
    if (typeof xTc === 'number' && isFinite(xTc)) {
      chart.setOption({
        graphic: {
          elements: [
            {
              id: 'tc-line', type: 'line', z: 90,
              shape: { x1: xTc, y1: 2, x2: xTc, y2: 457 },
              style: { stroke: '#222', lineWidth: 2, lineDash: [6, 4] },
            },
          ],
        },
      });
    }
    return () => chart.dispose();
  }, []);
  return <div ref={ref} style={{ position: 'absolute', left: 0, top: 0, width: 1268, height: 500 }} />;
}
